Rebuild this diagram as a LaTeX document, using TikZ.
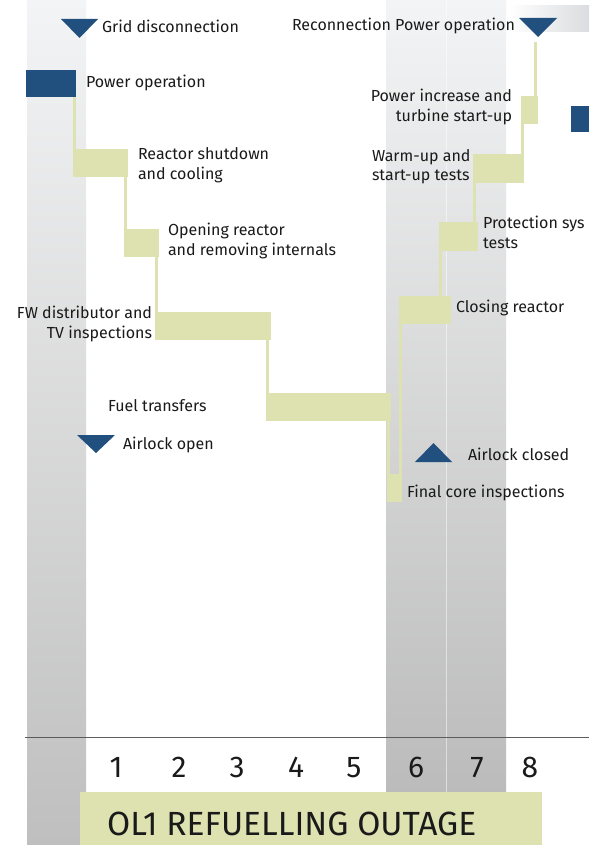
\documentclass[tikz,border=0pt]{standalone}
\usepackage{fontspec}
\setmainfont{Fira Sans}
\definecolor{olgreen}{HTML}{DEE2B0}
\definecolor{olblue}{HTML}{22507E}
\definecolor{txt}{HTML}{1A1A1A}
\definecolor{bandtop}{HTML}{F3F4F5}
\definecolor{bandbot}{HTML}{BFBFBF}
\definecolor{axisgray}{HTML}{5C5C5C}
\definecolor{bargray}{HTML}{DADCDF}
\begin{document}
\begin{tikzpicture}[x=1pt,y=-1pt,
  bar/.style={fill=olgreen, draw=none, inner sep=0pt, outer sep=0pt, anchor=north west},
  bluebox/.style={fill=olblue, draw=none, inner sep=0pt, outer sep=0pt, anchor=north west},
  conn/.style={draw=olgreen, line width=3pt},
  lbl/.style={font=\fontsize{16}{20}\selectfont, text=txt, inner sep=0pt, outer sep=0pt},
  marker/.style={fill=olblue, draw=none},
  num/.style={font=\fontsize{30}{36}\selectfont, text=txt, inner sep=0pt, anchor=base},
  title/.style={font=\fontsize{33.5}{40}\selectfont, text=txt, inner sep=0pt, anchor=base west}]
\useasboundingbox (0,0) rectangle (589,845);
\fill[white] (0,0) rectangle (589,845);
% background bands
\shade[top color=bandtop, bottom color=bandbot] (27,0) rectangle (86,845);
\shade[top color=bandtop, bottom color=bandbot!98!black] (386,0) rectangle (506,792);
\draw[white, opacity=0.5, line width=1pt] (446.5,0) -- (446.5,792);
\shade[left color=white, right color=bargray] (509,6) rectangle (589,32);
% axis
\draw[axisgray, line width=1.3pt] (25,737.3) -- (589,737.3);
% bars
\node[bluebox, minimum width=50pt, minimum height=27pt] (po) at (26,70) {};
\node[bar, minimum width=55pt, minimum height=28pt] (rs) at (73,149) {};
\node[bar, minimum width=35pt, minimum height=28pt] (or) at (124,229) {};
\node[bar, minimum width=116pt, minimum height=28pt] (fw) at (155,312) {};
\node[bar, minimum width=125pt, minimum height=28pt] (ft) at (266,393) {};
\node[bar, minimum width=15pt, minimum height=28pt] (fc) at (387,474) {};
\node[bar, minimum width=52pt, minimum height=28pt] (cr) at (399,296) {};
\node[bar, minimum width=39pt, minimum height=29pt] (pt) at (439,222) {};
\node[bar, minimum width=51pt, minimum height=29pt] (wu) at (473,154) {};
\node[bar, minimum width=17pt, minimum height=28pt] (pi) at (521,96) {};
\node[bluebox, minimum width=18pt, minimum height=26pt] (po2) at (571,106) {};
% markers
\fill[marker] (61,19) -- (98,19) -- (79.5,38) -- cycle;
\coordinate (gdapex) at (79.5,38);
\fill[marker] (77,435) -- (115,435) -- (96,453) -- cycle;
\coordinate (aoapex) at (96,453);
\fill[marker] (415,462) -- (452,462) -- (433.5,443) -- cycle;
\coordinate (acapex) at (433.5,443);
\fill[marker] (519,18) -- (557,18) -- (538,37) -- cycle;
\coordinate (rcapex) at (538,37);
% connectors
\draw[conn] ([xshift=1.5pt]rs.north west) -- ([xshift=1.5pt]rs.north west |- po.south);
\draw[conn] ([xshift=1.5pt]or.north west) -- ([xshift=1.5pt]or.north west |- rs.south);
\draw[conn] ([xshift=1.5pt]fw.north west) -- ([xshift=1.5pt]fw.north west |- or.south);
\draw[conn] ([xshift=1.5pt]ft.north west) -- ([xshift=1.5pt]ft.north west |- fw.south);
\draw[conn] ([xshift=1.5pt]fc.north west) -- ([xshift=1.5pt]fc.north west |- ft.south);
\draw[conn] ([xshift=1.5pt]cr.south west) -- ([xshift=1.5pt]cr.south west |- fc.north);
\draw[conn] ([xshift=1.5pt]pt.south west) -- ([xshift=1.5pt]pt.south west |- cr.north);
\draw[conn] ([xshift=1.5pt]wu.south west) -- ([xshift=1.5pt]wu.south west |- pt.north);
\draw[conn] ([xshift=1.5pt]pi.south west) -- ([xshift=1.5pt]pi.south west |- wu.north);
\draw[conn, shorten >=5pt] ([xshift=-2.5pt]pi.north east) -- ([xshift=-2.5pt]pi.north east |- rcapex);
% labels (base anchor of multi-line nodes = baseline of last line)
\node[lbl, anchor=base west] (lgd) at (102,33) {Grid disconnection};
\node[lbl, anchor=base west] (lpo) at (86,87.5) {Power operation};
\node[lbl, anchor=base west, align=left] (lrs) at (138,179) {Reactor shutdown\\and cooling};
\node[lbl, anchor=base west, align=left] (lor) at (168,255) {Opening reactor\\and removing internals};
\node[lbl, anchor=base east, align=right] (lfw) at (152,338) {FW distributor and\\TV inspections};
\node[lbl, anchor=base west] (lft) at (108,411) {Fuel transfers};
\node[lbl, anchor=base west] (lao) at (123,449) {Airlock open};
\node[lbl, anchor=base west] (lac) at (468,460) {Airlock closed};
\node[lbl, anchor=base west] (lfc) at (407,497) {Final core inspections};
\node[lbl, anchor=base west] (lcr) at (456,312) {Closing reactor};
\node[lbl, anchor=base west, align=left] (lpt) at (483,248) {Protection sys\\tests};
\node[lbl, anchor=base west, align=left] (lwu) at (372,181) {Warm-up and\\start-up tests};
\node[lbl, anchor=base east, align=right] (lpi) at (512,122) {Power increase and\\turbine start-up};
\node[lbl, anchor=base west] (lrc) at (292,30.7) {Reconnection Power operation};
% numbers
\node[num] (n1) at (116,777) {1};
\node[num] (n2) at (179,777) {2};
\node[num] (n3) at (237,777) {3};
\node[num] (n4) at (296,777) {4};
\node[num] (n5) at (354,777) {5};
\node[num] (n6) at (416,777) {6};
\node[num] (n7) at (477,777) {7};
\node[num] (n8) at (530,777) {8};
% title box
\node[bar, minimum width=462pt, minimum height=53pt] (tb) at (80,792) {};
\node[title] (ttl) at (107,835) {OL1 REFUELLING OUTAGE};
\end{tikzpicture}
\end{document}
